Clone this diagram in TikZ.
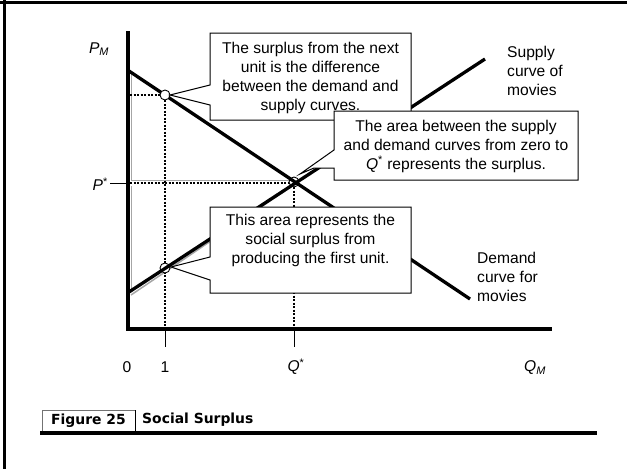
\documentclass[tikz,border=0pt]{standalone}
\usepackage{fontspec}
\setmainfont{Liberation Sans}
\newfontfamily\capfont{DejaVu Sans}
\begin{document}
\begin{tikzpicture}[x=1pt,y=-1pt,
  txt/.style={font=\fontsize{15.6}{19}\selectfont, align=center, inner sep=0pt},
  lbl/.style={font=\fontsize{15.6}{19}\selectfont, align=left, inner sep=0pt, anchor=west},
  curve/.style={line width=3.3pt},
  axisline/.style={line width=3.3pt, line cap=rect},
  dots/.style={line width=2.5pt, dash pattern=on 2pt off 1.5pt},
  shade/.style={line width=1pt, black!35},
  callout/.style={fill=white, draw=black, line width=1pt, line join=miter},
  dotc/.style={circle, draw=black, fill=white, line width=0.9pt, minimum size=10pt, inner sep=0pt},
  tick/.style={line width=1pt}]
\useasboundingbox (0,0) rectangle (627,469);
% frame
\draw[line width=3pt] (0,2) -- (627,2);
\draw[line width=3pt] (4.5,0) -- (4.5,469);
% coordinates
\coordinate (O) at (128,329);
\coordinate (Ytop) at (128,33);
\coordinate (Xend) at (550,329);
\coordinate (Dtop) at (129,71);
\coordinate (Dend) at (470,299);
\coordinate (Sbot) at (129,292);
\coordinate (Send) at (485,59);
\coordinate (E) at (294,182);
% shaded area outlines
\draw[shade] (131,72) -- (131,180) -- (290,180);
\draw[shade] (131,186) -- (131,290);
\draw[shade, line width=1.5pt] (131,295) -- (292,186);
% dotted guides
\draw[dots] (130,95) -- (160,95);
\draw[dots] (165,100) -- (165,328);
\draw[dots] (130,183) -- (289,183);
\draw[dots] (294,187) -- (294,328);
% circles under lines
\node[dotc] (s1) at (165,268) {};
\node[dotc] (eq) at (294,182) {};
% axes
\draw[axisline] (Ytop) -- (O) -- (Xend);
% curves
\draw[curve] (Dtop) -- (Dend);
\draw[curve] (Sbot) -- (Send);
% demand circle on top
\node[dotc] (d1) at (165,95) {};
% ticks
\coordinate (t1) at (165,347);
\coordinate (tq) at (294,347);
\coordinate (pl) at (110,183);
\coordinate (pa) at (128,183);
\draw[tick] (165,330) -- (t1);
\draw[tick] (294,330) -- (tq);
\draw[tick] (pl) -- (pa);
% callout 1
\draw[callout] (210,33) -- (411,33) -- (411,120) -- (210,120) -- (210,105) -- (170,95) -- (210,85) -- cycle;
\node[txt] (c1) at (310.5,77.5) {The surplus from the next\\unit is the difference\\between the demand and\\supply curves.};
% callout 3
\draw[callout] (210,207) -- (411,207) -- (411,293) -- (210,293) -- (210,280) -- (171,267) -- (210,257) -- cycle;
\node[txt] (c3) at (310.5,240.5) {This area represents the\\social surplus from\\producing the first unit.};
% callout 2 (on top)
\draw[callout] (334,111) -- (578,111) -- (578,180) -- (334,180) -- (334,168) -- (314,168) -- (300,174) -- (334,150) -- cycle;
\node[txt] (c2) at (456,146) {The area between the supply\\and demand curves from zero to\\\textit{Q}\textsuperscript{*} represents the surplus.};
% labels
\node[lbl] (sup) at (507,71) {Supply\\curve of\\movies};
\node[lbl] (dem) at (477,277) {Demand\\curve for\\movies};
\node[txt] (pm) at (99,49) {\textit{P}\textsubscript{\textit{M}}};
\node[txt, anchor=east] (ps) at (108,184) {\textit{P}\textsuperscript{*}};
\node[txt] (zero) at (127,367) {0};
\node[txt] (one) at (165,367) {1};
\node[txt] (qs) at (296,367) {\textit{Q}\textsuperscript{*}};
\node[txt] (qm) at (535,368) {\textit{Q}\textsubscript{\textit{M}}};
% caption
\draw[black!55, line width=1pt] (42,433) -- (42,410) -- (135,410);
\draw[black, line width=1pt] (135,410) -- (135,433);
\draw[line width=3.3pt] (40,433) -- (597,433);
\node[font=\capfont\bfseries\fontsize{13.9}{16}\selectfont, inner sep=0pt] (fig) at (88.5,421) {Figure 25};
\node[font=\capfont\bfseries\fontsize{13.9}{16}\selectfont, inner sep=0pt, anchor=west] (cap) at (142,420) {Social Surplus};
\end{tikzpicture}
\end{document}
